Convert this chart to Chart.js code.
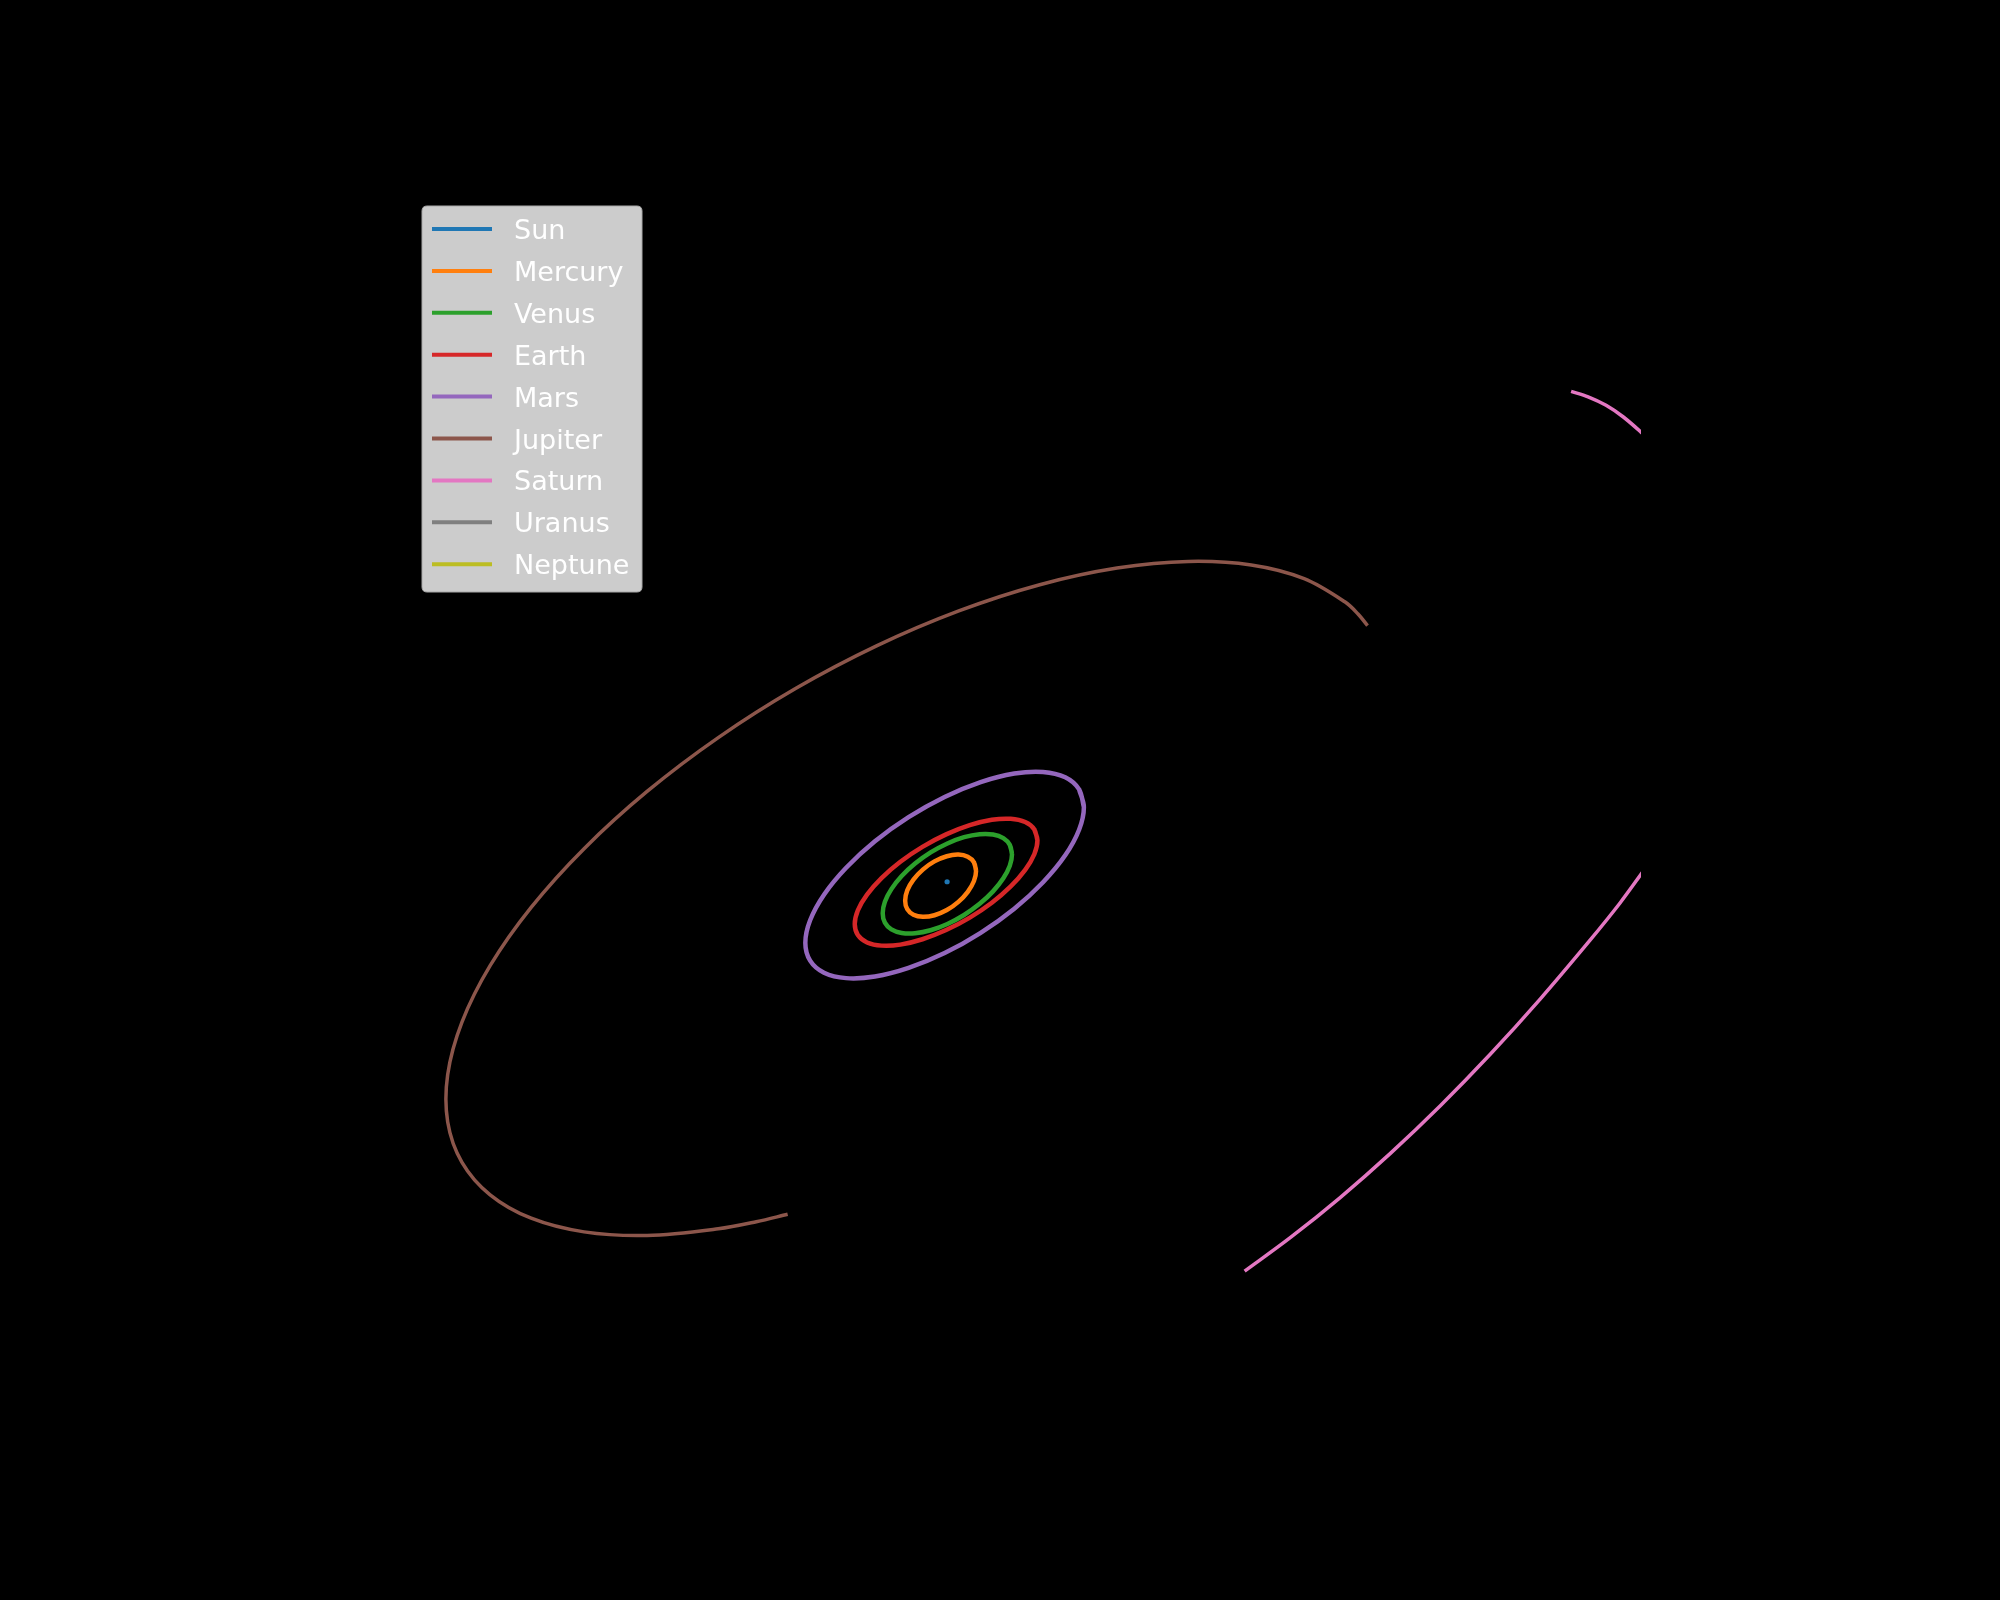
<!DOCTYPE html>
<html>
<head>
<meta charset="utf-8">
<script src="https://cdn.jsdelivr.net/npm/chart.js@4"></script>
<style>
  html, body { margin: 0; padding: 0; background: #000; }
  #wrap { width: 2000px; height: 1600px; }
</style>
</head>
<body>
<div id="wrap"><canvas id="c" width="2000" height="1600"></canvas></div>
<script>
// Projected orbit coordinates (approx. AU, Sun at origin)
const planetNames = ['Sun', 'Mercury', 'Venus', 'Earth', 'Mars', 'Jupiter', 'Saturn', 'Uranus', 'Neptune'];
const planetColors = ['#1f77b4', '#ff7f0e', '#2ca02c', '#d62728', '#9467bd', '#8c564b', '#e377c2', '#7f7f7f', '#bcbd22'];
const closedOrbit = [false, true, true, true, true, false, false, false, false];

const sunX = [0.00];
const sunY = [0.00];

const mercuryX = [0.290, 0.269, 0.207, 0.113, -0.003, -0.127, -0.243, -0.337, -0.399, -0.420, -0.399, -0.337, -0.243, -0.127, -0.003, 0.113, 0.207, 0.269];
const mercuryY = [0.110, 0.195, 0.251, 0.272, 0.256, 0.204, 0.122, 0.021, -0.087, -0.190, -0.275, -0.331, -0.352, -0.336, -0.284, -0.202, -0.101, 0.007];

const venusX = [0.650, 0.628, 0.563, 0.460, 0.326, 0.170, 0.003, -0.165, -0.321, -0.455, -0.558, -0.623, -0.645, -0.623, -0.558, -0.455, -0.321, -0.165, 0.003, 0.170, 0.326, 0.460, 0.563, 0.628];
const venusY = [0.275, 0.370, 0.438, 0.474, 0.477, 0.447, 0.384, 0.294, 0.182, 0.057, -0.074, -0.200, -0.315, -0.410, -0.478, -0.514, -0.517, -0.487, -0.424, -0.334, -0.222, -0.097, 0.034, 0.160];

const earthX = [0.905, 0.874, 0.782, 0.637, 0.448, 0.227, -0.010, -0.247, -0.468, -0.657, -0.802, -0.894, -0.925, -0.894, -0.802, -0.657, -0.468, -0.247, -0.010, 0.227, 0.448, 0.637, 0.782, 0.874];
const earthY = [0.415, 0.525, 0.599, 0.631, 0.621, 0.567, 0.475, 0.350, 0.201, 0.037, -0.129, -0.287, -0.425, -0.535, -0.609, -0.641, -0.631, -0.577, -0.485, -0.360, -0.211, -0.047, 0.119, 0.277];

const marsX = [1.370, 1.322, 1.183, 0.961, 0.673, 0.336, -0.025, -0.386, -0.723, -1.011, -1.233, -1.372, -1.420, -1.372, -1.233, -1.011, -0.723, -0.386, -0.025, 0.336, 0.673, 0.961, 1.183, 1.322];
const marsY = [0.748, 0.927, 1.048, 1.102, 1.086, 1.000, 0.851, 0.648, 0.406, 0.140, -0.130, -0.387, -0.613, -0.792, -0.913, -0.967, -0.951, -0.865, -0.716, -0.513, -0.271, -0.005, 0.265, 0.522];

const jupiterX = [-1.597, -1.911, -2.292, -3.005, -3.636, -4.166, -4.577, -4.859, -5.002, -5.002, -4.859, -4.577, -4.166, -3.636, -3.005, -2.292, -1.518, -0.707, 0.117, 0.928, 1.702, 2.415, 3.046, 3.576, 3.987, 4.116, 4.211];
const jupiterY = [-3.336, -3.411, -3.482, -3.549, -3.513, -3.376, -3.141, -2.815, -2.410, -1.935, -1.408, -0.842, -0.257, 0.332, 0.906, 1.446, 1.938, 2.366, 2.717, 2.980, 3.147, 3.214, 3.178, 3.041, 2.806, 2.686, 2.569];

// Saturn leaves the view on the right; null marks the unseen part
const saturnX = [2.98, 3.44, 3.94, 4.44, 4.94, 5.44, 5.94, 6.44, 6.74, 6.99, 6.99, 6.99, 6.94, 6.77, 6.60, 6.42, 6.25];
const saturnY = [-3.907, -3.569, -3.166, -2.725, -2.247, -1.731, -1.177, -0.586, -0.213, 0.13, null, 4.47, 4.52, 4.665, 4.78, 4.865, 4.92];

const uranusX = [];
const uranusY = [];
const neptuneX = [];
const neptuneY = [];

const seriesX = [sunX, mercuryX, venusX, earthX, marsX, jupiterX, saturnX, uranusX, neptuneX];
const seriesY = [sunY, mercuryY, venusY, earthY, marsY, jupiterY, saturnY, uranusY, neptuneY];

const datasets = planetNames.map((name, i) => {
  const pts = seriesX[i].map((x, k) => ({ x: x, y: seriesY[i][k] }));
  if (closedOrbit[i] && pts.length > 2) {
    // repeat the first two points so the loop closes smoothly
    pts.push({ x: pts[0].x, y: pts[0].y }, { x: pts[1].x, y: pts[1].y });
  }
  const isSun = i === 0;
  const outer = i >= 5;
  return {
    label: name,
    data: pts,
    showLine: !isSun,
    borderColor: planetColors[i],
    backgroundColor: planetColors[i],
    borderWidth: outer ? 3.5 : 4.5,
    pointRadius: isSun ? 2.6 : 0,
    pointBorderWidth: 0,
    pointHoverRadius: 0,
    tension: 0.34,
    spanGaps: false,
    clip: 0
  };
});

const legendPlugin = {
  id: 'mplLegend',
  afterDraw(chart) {
    const ctx = chart.ctx;
    const x0 = 422, y0 = 206, w = 220, h = 386, r = 5;
    ctx.save();
    ctx.beginPath();
    ctx.moveTo(x0 + r, y0);
    ctx.lineTo(x0 + w - r, y0);
    ctx.quadraticCurveTo(x0 + w, y0, x0 + w, y0 + r);
    ctx.lineTo(x0 + w, y0 + h - r);
    ctx.quadraticCurveTo(x0 + w, y0 + h, x0 + w - r, y0 + h);
    ctx.lineTo(x0 + r, y0 + h);
    ctx.quadraticCurveTo(x0, y0 + h, x0, y0 + h - r);
    ctx.lineTo(x0, y0 + r);
    ctx.quadraticCurveTo(x0, y0, x0 + r, y0);
    ctx.closePath();
    ctx.fillStyle = '#cccccc';
    ctx.fill();
    ctx.lineWidth = 1;
    ctx.strokeStyle = '#a8a8a8';
    ctx.stroke();
    ctx.font = '27px "DejaVu Sans"';
    ctx.textBaseline = 'alphabetic';
    ctx.textAlign = 'left';
    chart.data.datasets.forEach((ds, i) => {
      const cy = 229 + i * 41.9;
      ctx.beginPath();
      ctx.moveTo(432, cy);
      ctx.lineTo(492, cy);
      ctx.lineWidth = 4;
      ctx.lineCap = 'butt';
      ctx.strokeStyle = ds.borderColor;
      ctx.stroke();
      ctx.fillStyle = '#ffffff';
      ctx.fillText(ds.label, 514, cy + 10);
    });
    ctx.restore();
  }
};

new Chart(document.getElementById('c'), {
  type: 'scatter',
  data: { datasets: datasets },
  options: {
    responsive: false,
    animation: false,
    events: [],
    layout: { padding: { left: 0, right: 359, top: 0, bottom: 0 } },
    plugins: { legend: { display: false }, tooltip: { enabled: false }, title: { display: false } },
    scales: {
      x: { type: 'linear', display: false, min: -9.46, max: 6.95 },
      y: { type: 'linear', display: false, min: -7.18, max: 8.82 }
    }
  },
  plugins: [legendPlugin]
});
</script>
</body>
</html>
